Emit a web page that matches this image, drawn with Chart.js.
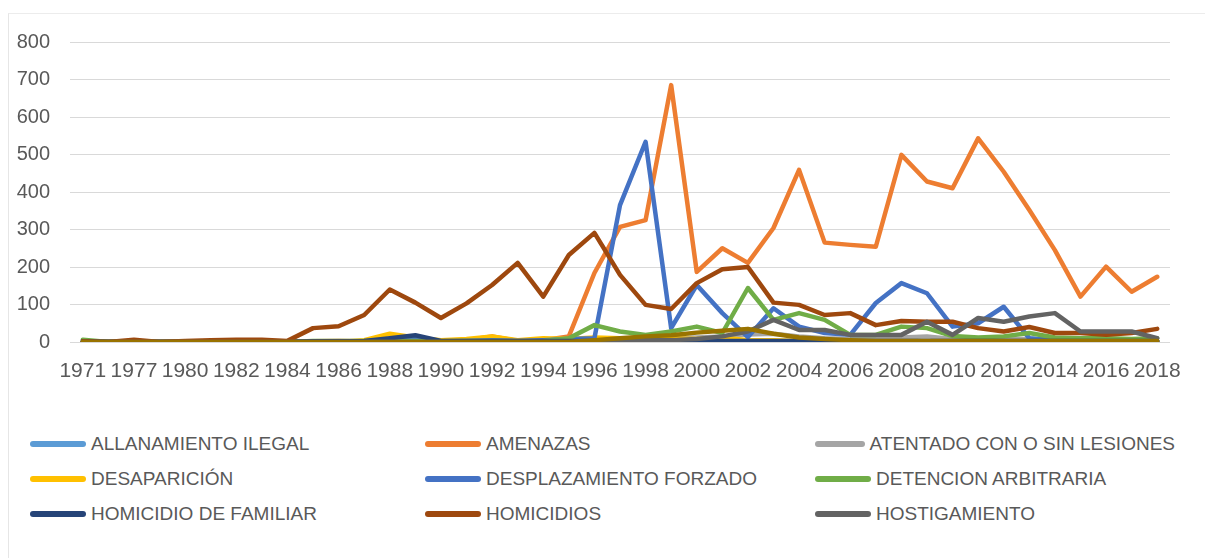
<!DOCTYPE html>
<html>
<head>
<meta charset="utf-8">
<script src="https://cdn.jsdelivr.net/npm/chart.js@4.4.1/dist/chart.umd.min.js"></script>
<style>
    body { margin: 0; background: #fff; font-family: "Liberation Sans", Arial, sans-serif; }
    #marco { position: absolute; left: 8px; top: 13px; width: 1197px; height: 545px;
             border-left: 1px solid #e6e6e6; border-top: 1px solid #ececec; }
    #grafico { position: absolute; left: 0; top: 0; }
    #leyenda { position: absolute; left: 30px; top: 433px; width: 1175px;
               display: grid; grid-template-columns: 395px 390px 360px; row-gap: 13px; }
    .item { display: flex; align-items: center; height: 22px; color: #595959; font-size: 19px; white-space: nowrap; }
    .linea { width: 56px; height: 6px; border-radius: 3px; margin-right: 5px; }
</style>
</head>
<body>
<div id="marco"></div>
<canvas id="grafico" width="1205" height="400"></canvas>
<div id="leyenda"></div>
<script>
// Datos del grafico
const anios = ['1971', '1976', '1977', '1979', '1980', '1981', '1982', '1983', '1984', '1985',
    '1986', '1987', '1988', '1989', '1990', '1991', '1992', '1993', '1994', '1995',
    '1996', '1997', '1998', '1999', '2000', '2001', '2002', '2003', '2004', '2005',
    '2006', '2007', '2008', '2009', '2010', '2011', '2012', '2013', '2014', '2015',
    '2016', '2017', '2018'];

const allanamientoIlegal = [0,0,0,0,0,0,0,0,0,0, 0,0,0,2,0,0,0,0,0,2, 3,3,3,3,2,3,3,3,2,2, 2,3,3,2,2,2,2,2,2,1, 1,1,1];
const amenazas = [0,0,0,0,0,0,0,0,0,2, 3,2,5,3,2,5,15,3,5,15, 184,307,325,685,187,250,211,304,459,265, 259,254,499,428,410,543,454,352,245,121, 201,134,174];
const atentado = [0,0,0,0,0,0,0,0,0,0, 0,0,2,2,0,0,2,0,2,3, 5,5,8,10,12,15,20,22,15,10, 8,8,12,15,8,10,8,8,5,5, 5,5,3];
const desaparicion = [0,0,0,0,0,0,0,0,0,0, 0,5,22,12,5,8,15,5,10,8, 12,10,8,10,8,12,5,5,3,3, 2,2,2,2,2,2,2,2,2,2, 2,2,2];
const desplazamiento = [0,0,0,0,0,0,0,0,0,0, 0,2,5,8,2,3,5,3,5,8, 10,365,534,37,152,77,13,90,41,24, 19,104,157,130,41,50,94,10,5,5, 5,5,3];
const detencion = [6,0,0,0,0,0,0,0,0,3, 3,3,3,3,2,3,3,2,3,10, 45,28,19,28,41,24,144,59,77,59, 19,19,41,37,16,12,15,24,12,10, 10,8,10];
const homicidioFamiliar = [2,1,1,1,1,1,1,1,1,2, 2,3,10,18,3,3,3,3,3,3, 3,3,3,3,3,3,3,3,3,3, 3,3,3,3,3,3,3,3,3,3, 3,3,3];
const homicidios = [2,0,6,0,3,5,6,6,3,37, 42,72,140,105,64,103,152,211,121,232, 291,179,99,88,157,194,200,105,99,72, 77,45,56,54,54,37,28,40,24,24, 19,24,35];
const hostigamiento = [0,0,0,0,0,0,0,0,0,0, 0,0,0,0,0,0,0,0,0,0, 2,3,5,5,8,15,28,59,32,32, 19,19,19,54,19,64,54,68,77,28, 28,28,10];
// serie visible en el grafico pero fuera de la leyenda
const serieSinLeyenda = [0,0,0,0,0,0,0,0,0,0, 0,0,0,0,0,0,0,0,0,0, 5,10,15,18,25,30,35,22,12,8, 5,3,3,3,3,3,3,3,3,3, 3,3,3];

const series = [
    { nombre: 'ALLANAMIENTO ILEGAL', datos: allanamientoIlegal, color: '#5B9BD5' },
    { nombre: 'AMENAZAS', datos: amenazas, color: '#ED7D31' },
    { nombre: 'ATENTADO CON O SIN LESIONES', datos: atentado, color: '#A5A5A5' },
    { nombre: 'DESAPARICIÓN', datos: desaparicion, color: '#FFC000' },
    { nombre: 'DESPLAZAMIENTO FORZADO', datos: desplazamiento, color: '#4472C4' },
    { nombre: 'DETENCION ARBITRARIA', datos: detencion, color: '#70AD47' },
    { nombre: 'HOMICIDIO DE FAMILIAR', datos: homicidioFamiliar, color: '#264478' },
    { nombre: 'HOMICIDIOS', datos: homicidios, color: '#9E480E' },
    { nombre: 'HOSTIGAMIENTO', datos: hostigamiento, color: '#636363' },
    { nombre: '', datos: serieSinLeyenda, color: '#997300', oculta: true }
];

const colorTexto = '#595959';

const ctx = document.getElementById('grafico').getContext('2d');
new Chart(ctx, {
    type: 'line',
    data: {
        labels: anios,
        datasets: series.map((s, i) => ({
            label: s.nombre,
            data: s.datos,
            borderColor: s.color,
            backgroundColor: s.color,
            borderWidth: 4.5,
            borderCapStyle: 'round',
            borderJoinStyle: 'round',
            pointRadius: 0,
            tension: 0,
            fill: false,
            order: series.length - i // como en Excel, la ultima serie queda encima
        }))
    },
    options: {
        responsive: false,
        animation: false,
        layout: {
            padding: { left: 0, right: 35, top: 42, bottom: 0 }
        },
        plugins: {
            legend: { display: false },
            tooltip: { enabled: false }
        },
        scales: {
            x: {
                offset: true,
                grid: { display: false },
                border: { display: false },
                ticks: {
                    autoSkip: false,
                    maxRotation: 0,
                    color: colorTexto,
                    font: { size: 21, family: '"Liberation Sans", Arial, sans-serif' },
                    padding: 9,
                    callback: function (value, index) {
                        return index % 2 === 0 ? this.getLabelForValue(value) : '';
                    }
                },
                afterFit: scale => { scale.height = 58; }
            },
            y: {
                min: 0,
                max: 800,
                grid: { color: '#d9d9d9', drawTicks: false },
                border: { display: false },
                ticks: {
                    stepSize: 100,
                    color: colorTexto,
                    font: { size: 20, family: '"Liberation Sans", Arial, sans-serif' },
                    padding: 20
                },
                afterFit: scale => { scale.width = 70; }
            }
        }
    }
});

// Leyenda en tres columnas
const leyenda = document.getElementById('leyenda');
series.filter(s => !s.oculta).forEach(s => {
    const item = document.createElement('div');
    item.className = 'item';
    const linea = document.createElement('span');
    linea.className = 'linea';
    linea.style.background = s.color;
    const texto = document.createElement('span');
    texto.textContent = s.nombre;
    item.appendChild(linea);
    item.appendChild(texto);
    leyenda.appendChild(item);
});
</script>
</body>
</html>
